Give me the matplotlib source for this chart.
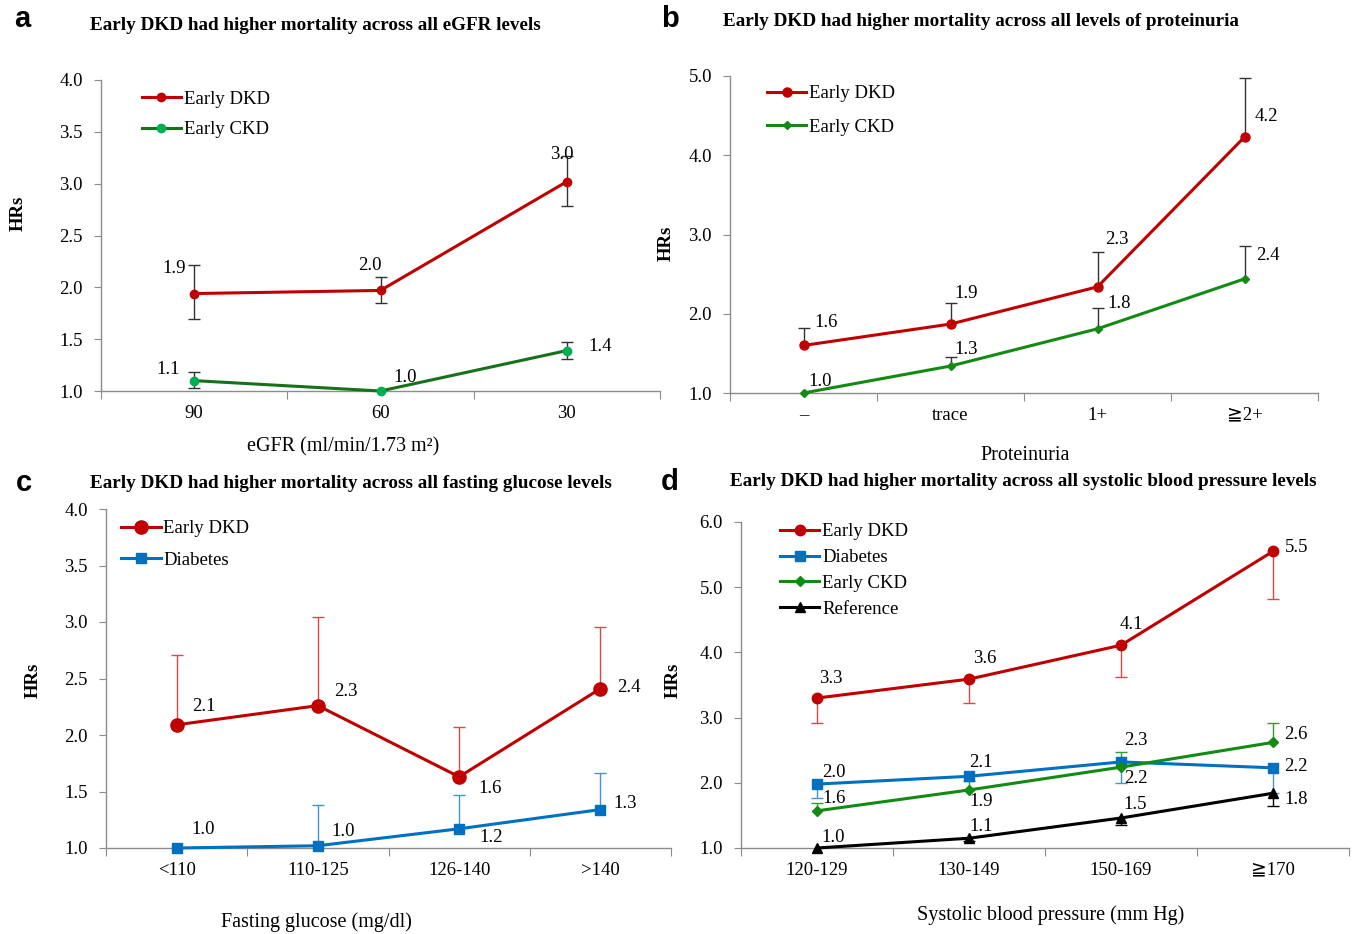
import numpy as np
import matplotlib
matplotlib.use("Agg")
import matplotlib.pyplot as plt

plt.rcParams['font.family'] = ['Liberation Serif', 'DejaVu Serif', 'DejaVu Sans', 'Noto Sans CJK JP']

# ---------------- data ----------------
# panel a
a_cats = ["90", "60", "30"]
a_dkd = [1.94, 1.97, 3.02]
a_dkd_lo = [1.69, 1.85, 2.78]
a_dkd_hi = [2.22, 2.10, 3.27]
a_dkd_lab = ["1.9", "2.0", "3.0"]
a_ckd = [1.10, 1.00, 1.39]
a_ckd_lo = [1.03, np.nan, 1.31]
a_ckd_hi = [1.18, np.nan, 1.47]
a_ckd_lab = ["1.1", "1.0", "1.4"]

# panel b
b_cats = ["–", "trace", "1+", "≧2+"]
b_dkd = [1.60, 1.87, 2.34, 4.23]
b_dkd_hi = [1.82, 2.14, 2.78, 4.97]
b_dkd_lab = ["1.6", "1.9", "2.3", "4.2"]
b_ckd = [1.00, 1.34, 1.81, 2.44]
b_ckd_hi = [np.nan, 1.45, 2.07, 2.85]
b_ckd_lab = ["1.0", "1.3", "1.8", "2.4"]

# panel c
c_cats = ["<110", "110-125", "126-140", ">140"]
c_dkd = [2.09, 2.26, 1.63, 2.41]
c_dkd_hi = [2.71, 3.04, 2.07, 2.96]
c_dkd_lab = ["2.1", "2.3", "1.6", "2.4"]
c_dm = [1.00, 1.02, 1.17, 1.34]
c_dm_hi = [np.nan, 1.38, 1.47, 1.66]
c_dm_lab = ["1.0", "1.0", "1.2", "1.3"]

# panel d
d_cats = ["120-129", "130-149", "150-169", "≧170"]
d_dkd = [3.30, 3.59, 4.11, 5.55]
d_dkd_lo = [2.92, 3.22, 3.62, 4.82]
d_dkd_lab = ["3.3", "3.6", "4.1", "5.5"]
d_dm = [1.98, 2.10, 2.32, 2.23]
d_dm_lo = [1.77, np.nan, 1.99, 1.84]
d_dm_lab = ["2.0", "2.1", "2.3", "2.2"]
d_ckd = [1.57, 1.89, 2.24, 2.62]
d_ckd_hi = [1.69, 2.02, 2.47, 2.91]
d_ckd_lab = ["1.6", "1.9", "2.2", "2.6"]
d_ref = [1.00, 1.15, 1.46, 1.84]
d_ref_lo = [np.nan, 1.11, 1.35, 1.64]
d_ref_lab = ["1.0", "1.1", "1.5", "1.8"]

# ---------------- styling ----------------
W, H = 1359, 934
fig = plt.figure(figsize=(W / 100, H / 100), dpi=100)

RED = "#C00000"
GREEN = "#138A13"
DKGREEN = "#17701A"
LTGREEN = "#00B050"
BLUE = "#0070C0"
AXC = "#8C8C8C"
FS = 13.5


def add_ax(left, top, right, bottom):
    return fig.add_axes([left / W, 1 - bottom / H, (right - left) / W, (bottom - top) / H])


def style_axes(ax, cats, ylim, yticks):
    n = len(cats)
    ax.set_xlim(-0.5, n - 0.5)
    ax.set_ylim(*ylim)
    for s in ("top", "right"):
        ax.spines[s].set_visible(False)
    for s in ("left", "bottom"):
        ax.spines[s].set_color(AXC)
        ax.spines[s].set_linewidth(1.0)
    ax.set_xticks(np.arange(n + 1) - 0.5)
    ax.set_xticklabels([""] * (n + 1))
    ax.set_xticks(np.arange(n), minor=True)
    ax.set_xticklabels(cats, minor=True, fontsize=FS)
    ax.tick_params(axis="x", which="major", direction="out", length=6, color=AXC)
    ax.tick_params(axis="x", which="minor", length=0, pad=10)
    ax.set_yticks(yticks)
    ax.set_yticklabels(["%.1f" % v for v in yticks], fontsize=FS)
    ax.tick_params(axis="y", direction="out", length=5, color=AXC, pad=8)
    ax.patch.set_alpha(0)


def series(ax, y, color, marker, ms, label, mfc=None, lw=2.2, lo=None, hi=None,
           ecolor="#333333", elw=1.0, cap=8):
    x = np.arange(len(y))
    y = np.asarray(y, float)
    for bound in (lo, hi):
        if bound is None:
            continue
        b = np.asarray(bound, float)
        m = ~np.isnan(b)
        ax.vlines(x[m], y[m], b[m], color=ecolor, lw=elw, zorder=2, clip_on=False)
        ax.plot(x[m], b[m], ls="none", marker="_", ms=cap, mew=elw, color=ecolor,
                zorder=2, clip_on=False)
    mfc = mfc or color
    ax.plot(x, y, color=color, lw=lw, marker=marker, ms=ms, mfc=mfc, mec=mfc,
            label=label, zorder=3, clip_on=False)


def labels(ax, y, texts, offsets):
    for i, (v, t, off) in enumerate(zip(y, texts, offsets)):
        ax.annotate(t, (i, v), xytext=off, textcoords="offset pixels",
                    ha="center", va="center", fontsize=FS, zorder=4)


def legend(ax, x, y, spacing):
    ax.legend(loc="upper left", bbox_to_anchor=(x, y), frameon=False, fontsize=FS,
              handlelength=2.1, handletextpad=0.15, borderpad=0, borderaxespad=0,
              labelspacing=spacing)


# ---------------- panel a ----------------
ax = add_ax(101, 80, 660, 391)
style_axes(ax, a_cats, (1.0, 4.0), np.arange(1.0, 4.01, 0.5))
series(ax, a_dkd, RED, "o", 6, "Early DKD", lo=a_dkd_lo, hi=a_dkd_hi)
series(ax, a_ckd, DKGREEN, "o", 6, "Early CKD", mfc=LTGREEN, lo=a_ckd_lo, hi=a_ckd_hi)
labels(ax, a_dkd, a_dkd_lab, [(-20, 25), (-11, 25), (-5, 27)])
labels(ax, a_ckd, a_ckd_lab, [(-26, 11), (25, 14), (33, 4)])
legend(ax, 0.073, 0.965, 0.71)

# ---------------- panel b ----------------
ax = add_ax(730, 76, 1318, 393)
style_axes(ax, b_cats, (1.0, 5.0), np.arange(1.0, 5.01, 1.0))
series(ax, b_dkd, RED, "o", 6.5, "Early DKD", hi=b_dkd_hi)
series(ax, b_ckd, GREEN, "D", 4.5, "Early CKD", hi=b_ckd_hi)
labels(ax, b_dkd, b_dkd_lab, [(23, 23), (16, 31), (19, 47), (22, 21)])
labels(ax, b_ckd, b_ckd_lab, [(17, 12), (16, 17), (22, 25), (23, 23)])
legend(ax, 0.063, 0.971, 0.86)

# ---------------- panel c ----------------
ax = add_ax(106, 509, 671, 848)
style_axes(ax, c_cats, (1.0, 4.0), np.arange(1.0, 4.01, 0.5))
series(ax, c_dkd, RED, "o", 9.5, "Early DKD", hi=c_dkd_hi, ecolor="#D84848")
series(ax, c_dm, BLUE, "s", 7, "Diabetes", hi=c_dm_hi, ecolor="#3F95D6")
labels(ax, c_dkd, c_dkd_lab, [(27, 18), (28, 14), (31, -12), (29, 1)])
labels(ax, c_dm, c_dm_lab, [(27, 18), (25, 14), (32, -9), (25, 6)])
legend(ax, 0.027, 0.967, 0.76)

# ---------------- panel d ----------------
ax = add_ax(741, 522, 1349, 848)
style_axes(ax, d_cats, (1.0, 6.0), np.arange(1.0, 6.01, 1.0))
series(ax, d_dkd, RED, "o", 7.5, "Early DKD", lo=d_dkd_lo, ecolor="#D84848")
series(ax, d_dm, BLUE, "s", 7, "Diabetes", lo=d_dm_lo, ecolor="#3F95D6")
series(ax, d_ckd, GREEN, "D", 5, "Early CKD", hi=d_ckd_hi, ecolor="#2E9E2E")
series(ax, d_ref, "black", "^", 7, "Reference", lo=d_ref_lo, ecolor="black")
labels(ax, d_dkd, d_dkd_lab, [(14, 20), (16, 21), (10, 21), (24, 4)])
labels(ax, d_dm, d_dm_lab, [(17, 12), (12, 14), (15, 21), (23, 1)])
labels(ax, d_ckd, d_ckd_lab, [(17, 12), (12, -12), (15, -11), (23, 8)])
labels(ax, d_ref, d_ref_lab, [(16, 11), (12, 12), (14, 14), (23, -6)])
legend(ax, 0.064, 0.996, 0.46)


# ---------------- figure texts ----------------
def ftext(x, y, s, **kw):
    fig.text(x / W, 1 - y / H, s, **kw)


TB = dict(fontsize=13.8, fontweight="bold", va="center", ha="left")
ftext(90, 26, "Early DKD had higher mortality across all eGFR levels", **TB)
ftext(723, 22, "Early DKD had higher mortality across all levels of proteinuria", **TB)
ftext(90, 483, "Early DKD had higher mortality across all fasting glucose levels", **TB)
ftext(730, 482, "Early DKD had higher mortality across all systolic blood pressure levels", **TB)

LB = dict(fontsize=21, fontweight="bold", va="center", ha="left", family="Liberation Sans")
ftext(14, 19, "a", **LB)
ftext(661, 19, "b", **LB)
ftext(16, 483, "c", **LB)
ftext(661, 482, "d", **LB)

HR = dict(fontsize=13.5, fontweight="bold", rotation=90, va="center", ha="center")
ftext(18, 213, "HRs", **HR)
ftext(666, 243, "HRs", **HR)
ftext(33, 680, "HRs", **HR)
ftext(673, 680, "HRs", **HR)

XL = dict(fontsize=14.5, va="center", ha="center")
ftext(343, 447, "eGFR (ml/min/1.73 m²)", **XL)
ftext(1025, 455, "Proteinuria", **XL)
ftext(316, 922, "Fasting glucose (mg/dl)", **XL)
ftext(1051, 915, "Systolic blood pressure (mm Hg)", **XL)

fig.savefig("out.png", dpi=100)
